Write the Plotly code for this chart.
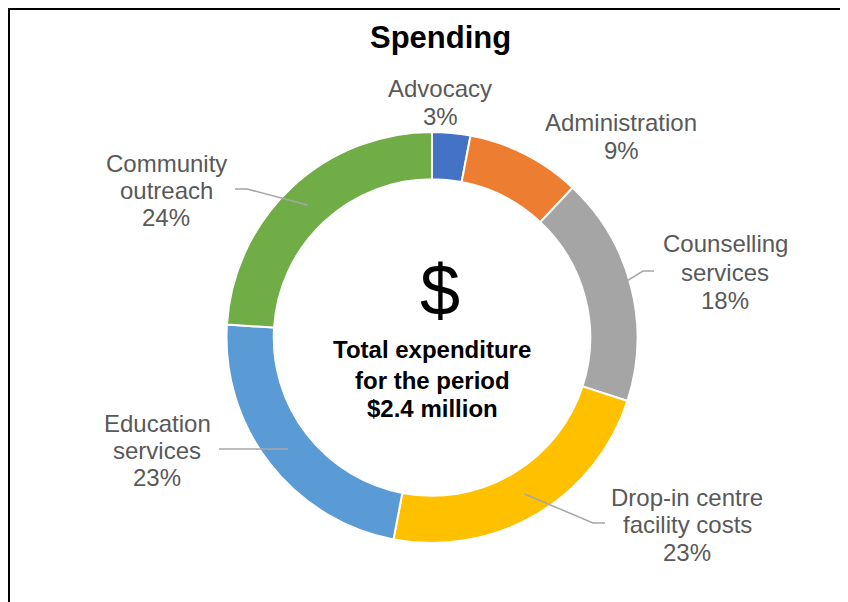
import math
import plotly.graph_objects as go

# ---- data ----
categories = ["Advocacy", "Administration", "Counselling services",
              "Drop-in centre facility costs", "Education services", "Community outreach"]
values = [3, 9, 18, 23, 23, 24]
title_text = "Spending"
center_lines = ["Total expenditure", "for the period", "$2.4 million"]

# ---- styles / layout ----
colors = ["#4472C4", "#ED7D31", "#A5A5A5", "#FFC000", "#5B9BD5", "#70AD47"]
label_lines = [["Advocacy"], ["Administration"], ["Counselling", "services"],
               ["Drop-in centre", "facility costs"], ["Education", "services"],
               ["Community", "outreach"]]
# label placement (pixel centre x, per-line centre y) in window pixels
label_x = [440.5, 621, 725, 687, 157, 166]
label_y = [[88, 116], [122, 151], [244, 272, 300], [497, 524, 552],
           [423, 450, 478], [163, 190, 217]]
# leader lines: None or (elbow, end) in window pixels
leaders = [None, None, ((643, 271), (654, 271)), ((593, 523), (605, 523)),
           ((230, 449), (219, 449)), ((247, 189), (235, 189))]

OFF = 8            # page body margin
W, H = 848 - OFF, 602 - OFF
CX, CY, R = 432, 337.5, 205.5
HOLE = 0.77
FONT = "Liberation Sans, Arial, sans-serif"
LABEL_COLOR = "#595959"


def px(x):
    return (x - OFF) / W


def py(y):
    return 1 - (y - OFF) / H


fig = go.Figure(go.Pie(
    labels=categories, values=values, sort=False, direction="clockwise",
    rotation=0, hole=HOLE, textinfo="none", hoverinfo="label+percent",
    showlegend=False,
    marker=dict(colors=colors, line=dict(color="white", width=2)),
    domain=dict(x=[px(CX - R), px(CX + R)], y=[py(CY + R), py(CY - R)]),
))

annotations = []
shapes = []
total = sum(values)
cum = 0
r_mid = R * (1 + HOLE) / 2
for i, v in enumerate(values):
    a = 2 * math.pi * (cum + v / 2) / total
    cum += v
    lines = label_lines[i] + [f"{v}%"]
    for t, yy in zip(lines, label_y[i]):
        annotations.append(dict(
            x=px(label_x[i]), y=py(yy), xref="paper", yref="paper",
            text=t, showarrow=False, xanchor="center", yanchor="middle",
            font=dict(family=FONT, size=24, color=LABEL_COLOR)))
    if leaders[i] is not None:
        sx = CX + r_mid * math.sin(a)
        sy = CY - r_mid * math.cos(a)
        (ex, ey), (fx, fy) = leaders[i]
        shapes.append(dict(
            type="path", xref="paper", yref="paper",
            path=f"M {px(sx)},{py(sy)} L {px(ex)},{py(ey)} L {px(fx)},{py(fy)}",
            line=dict(color="#A6A6A6", width=1.5)))

# centre dollar sign and text
annotations.append(dict(x=px(440), y=py(290), xref="paper", yref="paper",
                        text="$", showarrow=False, xanchor="center", yanchor="middle",
                        font=dict(family=FONT, size=72, color="black")))
for t, yy in zip(center_lines, [349, 380, 408]):
    annotations.append(dict(x=px(432), y=py(yy), xref="paper", yref="paper",
                            text=f"<b>{t}</b>", showarrow=False,
                            xanchor="center", yanchor="middle",
                            font=dict(family=FONT, size=24, color="black")))

# title
annotations.append(dict(x=px(441), y=py(38), xref="paper", yref="paper",
                        text=f"<b>{title_text}</b>", showarrow=False,
                        xanchor="center", yanchor="middle",
                        font=dict(family=FONT, size=31, color="black")))

# chart border (left and top edges visible)
shapes.append(dict(type="rect", xref="paper", yref="paper",
                   x0=1 / W, x1=px(870), y0=py(630), y1=1 - 1 / H,
                   line=dict(color="black", width=2)))

fig.update_layout(
    width=W, height=H, margin=dict(l=0, r=0, t=0, b=0),
    paper_bgcolor="white", plot_bgcolor="white",
    annotations=annotations, shapes=shapes,
)

fig.write_html("out.html")
